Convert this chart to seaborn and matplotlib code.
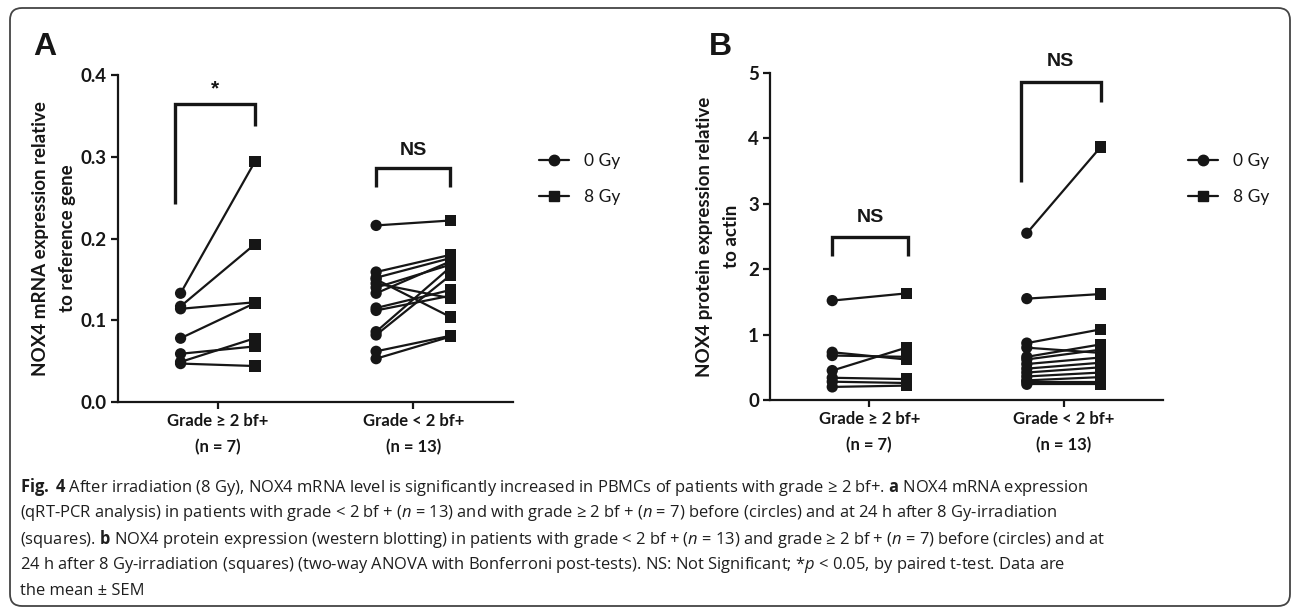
import numpy as np
import pandas as pd
import matplotlib
matplotlib.use("Agg")
import matplotlib.pyplot as plt
import seaborn as sns
from matplotlib import font_manager
from matplotlib.lines import Line2D
from matplotlib.patches import FancyBboxPatch

# categories
groups = ["Grade \u2265 2 bf+\n(n = 7)", "Grade < 2 bf+\n(n = 13)"]
conditions = ["0 Gy", "8 Gy"]

# A: NOX4 mRNA, before (0 Gy) / after (8 Gy), paired per patient
mrna_hi_0 = [0.133, 0.117, 0.114, 0.078, 0.059, 0.049, 0.047]
mrna_hi_8 = [0.294, 0.193, 0.122, 0.121, 0.068, 0.078, 0.044]
mrna_lo_0 = [0.216, 0.159, 0.152, 0.150, 0.145, 0.140, 0.133, 0.115, 0.112, 0.086, 0.082, 0.062, 0.053]
mrna_lo_8 = [0.222, 0.180, 0.176, 0.104, 0.127, 0.168, 0.172, 0.137, 0.130, 0.165, 0.155, 0.081, 0.080]

# B: NOX4 protein
prot_hi_0 = [1.52, 0.73, 0.68, 0.45, 0.34, 0.28, 0.20]
prot_hi_8 = [1.63, 0.62, 0.66, 0.80, 0.32, 0.26, 0.22]
prot_lo_0 = [2.55, 1.55, 0.87, 0.80, 0.66, 0.62, 0.55, 0.48, 0.42, 0.36, 0.30, 0.28, 0.24]
prot_lo_8 = [3.87, 1.62, 1.08, 0.72, 0.85, 0.77, 0.65, 0.57, 0.50, 0.42, 0.35, 0.28, 0.24]

# significance brackets: (x_left, x_right, y_top, y_left_end, y_right_end, label, label_y)
brackets_a = [(-0.22, 0.19, 0.365, 0.242, 0.338, "*", 0.383),
              (0.81, 1.19, 0.286, 0.263, 0.263, "NS", 0.308)]
brackets_b = [(-0.19, 0.20, 2.49, 2.20, 2.20, "NS", 2.79),
              (0.78, 1.19, 4.87, 3.34, 4.55, "NS", 5.17)]

GE, PM = "\u2265", "\u00b1"
caption = [
    r"$\mathbf{Fig.}$ $\mathbf{4}$ After irradiation (8 Gy), NOX4 mRNA level is significantly increased in PBMCs of patients with grade "
    + GE + r" 2 bf+. $\mathbf{a}$ NOX4 mRNA expression",
    r"(qRT-PCR analysis) in patients with grade < 2 bf + ($\mathit{n}$ = 13) and with grade " + GE
    + r" 2 bf + ($\mathit{n}$ = 7) before (circles) and at 24 h after 8 Gy-irradiation",
    r"(squares). $\mathbf{b}$ NOX4 protein expression (western blotting) in patients with grade < 2 bf + ($\mathit{n}$ = 13) and grade "
    + GE + r" 2 bf + ($\mathit{n}$ = 7) before (circles) and at",
    r"24 h after 8 Gy-irradiation (squares) (two-way ANOVA with Bonferroni post-tests). NS: Not Significant; *$\mathit{p}$ < 0.05, by paired t-test. Data are",
    "the mean " + PM + " SEM",
]

installed = {f.name for f in font_manager.fontManager.ttflist}
def pick(*names):
    for n in names:
        if n in installed:
            return n
    return "DejaVu Sans"

MAIN = pick("Lato", "Open Sans", "Liberation Sans")
ARIAL = pick("Liberation Sans", "DejaVu Sans")
CAP = pick("Liberation Sans Narrow", "Open Sans", "Liberation Sans")

sns.set_style("white")
plt.rcParams["font.family"] = [MAIN, "DejaVu Sans"]
plt.rcParams["mathtext.fontset"] = "custom"
plt.rcParams["mathtext.rm"] = CAP
plt.rcParams["mathtext.bf"] = CAP + ":bold"
plt.rcParams["mathtext.it"] = CAP + ":italic"

INK = "#161616"
W, H = 1293, 609
fig = plt.figure(figsize=(W / 100, H / 100), dpi=100)


def long_table(hi0, hi8, lo0, lo8):
    rows = []
    for g, (a, b) in enumerate([(hi0, hi8), (lo0, lo8)]):
        for i, (v0, v8) in enumerate(zip(a, b)):
            rows.append((g, f"{g}-{i}", conditions[0], g - 0.19, v0))
            rows.append((g, f"{g}-{i}", conditions[1], g + 0.19, v8))
    return pd.DataFrame(rows, columns=["group", "patient", "condition", "x", "value"])


def draw_panel(rect, df, ylim, yticks, fmt, ylabel, brackets, label_x):
    ax = fig.add_axes(rect)
    sns.lineplot(data=df, x="x", y="value", units="patient", estimator=None,
                 sort=False, color=INK, lw=1.6, legend=False, ax=ax)
    sns.scatterplot(data=df, x="x", y="value", style="condition",
                    markers={"0 Gy": "o", "8 Gy": "s"}, color=INK, s=66,
                    linewidth=0, legend=False, ax=ax, zorder=3, clip_on=False)
    ax.set_xlim(-0.51, 1.51)
    ax.set_ylim(*ylim)
    ax.set_yticks(yticks)
    ax.set_yticklabels([fmt.format(t) for t in yticks], fontsize=13.5,
                       fontweight="bold", fontfamily=MAIN)
    ax.set_xticks([0, 1])
    ax.set_xticklabels(groups, fontsize=12, fontweight="bold", linespacing=1.75)
    ax.set_xlabel("")
    ax.set_ylabel("")
    sns.despine(ax=ax)
    for s in ("left", "bottom"):
        ax.spines[s].set_linewidth(1.6)
        ax.spines[s].set_color(INK)
    ax.tick_params(axis="both", length=5, width=1.6, color=INK, pad=3,
                   labelcolor=INK, direction="out", left=True, bottom=True)
    ax.text(label_x, 0.5, ylabel, transform=ax.transAxes, rotation=90,
            ha="center", va="center", fontsize=13.5, fontweight="bold",
            color=INK, linespacing=1.7)
    for x0, x1, top, yl, yr, lab, ly in brackets:
        ax.plot([x0, x0, x1, x1], [yl, top, top, yr], color=INK, lw=2.4,
                solid_capstyle="butt", solid_joinstyle="miter", clip_on=False)
        ax.text((x0 + x1) / 2, ly, lab, ha="center", va="center",
                fontsize=15 if lab == "*" else 14, fontweight="bold",
                family=ARIAL, color=INK, clip_on=False)
    return ax


df_a = long_table(mrna_hi_0, mrna_hi_8, mrna_lo_0, mrna_lo_8)
df_b = long_table(prot_hi_0, prot_hi_8, prot_lo_0, prot_lo_8)

ax_a = draw_panel([118 / W, 1 - 402 / H, 395 / W, 327 / H], df_a, (0, 0.4),
                  [0.0, 0.1, 0.2, 0.3, 0.4], "{:.1f}",
                  "NOX4 mRNA expression relative\nto reference gene", brackets_a, -0.162)
ax_b = draw_panel([770 / W, 1 - 400 / H, 393 / W, 327 / H], df_b, (0, 5),
                  [0, 1, 2, 3, 4, 5], "{:d}",
                  "NOX4 protein expression relative\nto actin", brackets_b, -0.132)

# panel letters
fig.text(33 / W, 1 - 47 / H, "A", fontsize=23, fontweight="bold", family=ARIAL,
         va="center", ha="left", color=INK)
fig.text(709 / W, 1 - 47 / H, "B", fontsize=23, fontweight="bold", family=ARIAL,
         va="center", ha="left", color=INK)

# legends
handles = [Line2D([], [], color=INK, lw=1.6, marker="o", markersize=7.5),
           Line2D([], [], color=INK, lw=1.6, marker="s", markersize=7.5)]
for lx in (539, 1188):
    fig.legend(handles, conditions, loc="upper left", frameon=False,
               bbox_to_anchor=(lx / W, 1 - 153 / H), borderpad=0, borderaxespad=0,
               handlelength=1.7, handletextpad=0.9, labelspacing=1.15,
               prop={"family": MAIN, "size": 12.5}, labelcolor=INK)

# caption
for i, line in enumerate(caption):
    fig.text(20 / W, 1 - (487 + 26 * i) / H, line, ha="left", va="center",
             fontsize=11.9, family=[CAP, "DejaVu Sans"], color="#1e1e1e")

# rounded frame
frame = FancyBboxPatch((10, 3), 1280, 598, boxstyle="round,pad=0,rounding_size=12",
                       transform=None, fill=False, ec="#444444", lw=1.3)
fig.patches.append(frame)

fig.savefig("out.png", dpi=100)
